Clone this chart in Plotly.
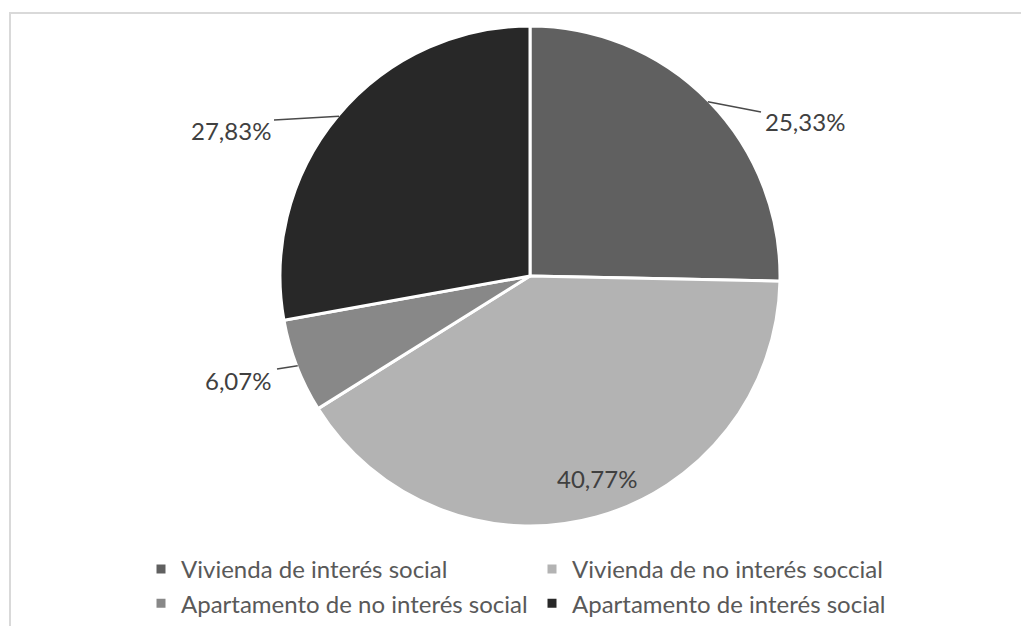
import math

import plotly.graph_objects as go

W, H = 1021, 626

categories = [
    "Vivienda de interés social",
    "Vivienda de no interés soccial",
    "Apartamento de no interés social",
    "Apartamento de interés social",
]
shares = [25.33, 40.77, 6.07, 27.83]
colors = ["#606060", "#b3b3b3", "#888888", "#282828"]

# pie geometry in pixels (center and radius)
CX, CY, R = 530, 276, 250

# label text anchor (px) and leader line end (px) per slice; None = no leader
LABEL_LAYOUT = [
    {"text_xy": (763, 122), "anchor": "left", "leader_end": (761, 112)},
    {"text_xy": (597, 478), "anchor": "center", "leader_end": None},
    {"text_xy": (273, 380), "anchor": "right", "leader_end": (277, 369)},
    {"text_xy": (273, 130), "anchor": "right", "leader_end": (274, 120)},
]


def px_x(x):
    return x / W


def px_y(y):
    return 1 - y / H


fig = go.Figure(
    go.Pie(
        labels=categories,
        values=shares,
        sort=False,
        direction="clockwise",
        rotation=0,
        textinfo="none",
        hoverinfo="label+percent",
        marker={"colors": colors, "line": {"color": "#ffffff", "width": 3}},
        domain={
            "x": [px_x(CX - R), px_x(CX + R)],
            "y": [px_y(CY + R), px_y(CY - R)],
        },
    )
)

total = sum(shares)
cumulative = 0.0
annotations = []
shapes = []
for value, spec in zip(shares, LABEL_LAYOUT):
    mid = (cumulative + value / 2) / total * 2 * math.pi
    cumulative += value
    label = f"{value:.2f}".replace(".", ",") + "%"
    tx, ty = spec["text_xy"]
    annotations.append(
        dict(
            x=px_x(tx),
            y=px_y(ty),
            xref="paper",
            yref="paper",
            text=label,
            showarrow=False,
            xanchor=spec["anchor"],
            yanchor="middle",
            font={"size": 24, "color": "#404040"},
        )
    )
    if spec["leader_end"]:
        sx = CX + (R - 1) * math.sin(mid)
        sy = CY - (R - 1) * math.cos(mid)
        ex, ey = spec["leader_end"]
        shapes.append(
            dict(
                type="line",
                xref="paper",
                yref="paper",
                x0=px_x(sx),
                y0=px_y(sy),
                x1=px_x(ex),
                y1=px_y(ey),
                line={"color": "#4a4a4a", "width": 1.5},
            )
        )

# chart frame
shapes.append(
    dict(
        type="rect",
        xref="paper",
        yref="paper",
        x0=px_x(10),
        y0=-0.05,
        x1=1.05,
        y1=px_y(13),
        line={"color": "#d9d9d9", "width": 2},
        layer="below",
    )
)

fig.update_layout(
    width=W,
    height=H,
    margin=dict(l=0, r=0, t=0, b=0),
    paper_bgcolor="#ffffff",
    plot_bgcolor="#ffffff",
    font={"family": "Lato, sans-serif", "color": "#595959", "size": 24},
    annotations=annotations,
    shapes=shapes,
    legend={
        "orientation": "h",
        "x": px_x(141),
        "y": 0,
        "xanchor": "left",
        "yanchor": "bottom",
        "entrywidth": 346,
        "entrywidthmode": "pixels",
        "itemwidth": 30,
        "font": {"size": 24, "color": "#595959"},
        "traceorder": "normal",
    },
    showlegend=True,
)

# drop the default page margin so the figure fills the window exactly
fig.write_html(
    "out.html",
    config={"displayModeBar": False},
    post_script="document.body.style.margin='0';document.body.style.overflow='hidden';",
)
